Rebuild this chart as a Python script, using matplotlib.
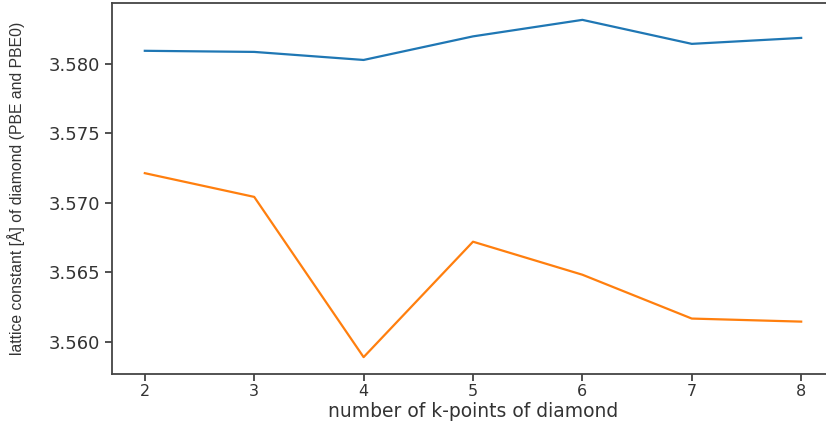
import matplotlib
matplotlib.use("Agg")
import matplotlib.pyplot as plt

# k-point grid sizes and converged lattice constants (Å)
kpoints = [2, 3, 4, 5, 6, 7, 8]
a_pbe = [3.58096, 3.58088, 3.58030, 3.58200, 3.58319, 3.58146, 3.58189]
a_pbe0 = [3.57214, 3.57043, 3.55888, 3.56720, 3.56482, 3.56166, 3.56144]

fig = plt.figure(figsize=(8.26, 4.24), dpi=100)
ax = fig.add_axes([112 / 826, 50 / 424, 722 / 826, 371 / 424])

ax.plot(kpoints, a_pbe, color="#1f77b4", lw=1.6)
ax.plot(kpoints, a_pbe0, color="#ff7f0e", lw=1.6)

ax.set_yticks([3.560, 3.565, 3.570, 3.575, 3.580])
ax.tick_params(colors="#333333", length=5, width=1.2)
ax.tick_params(axis="y", labelsize=13)
ax.tick_params(axis="x", labelsize=11.5, pad=2)
for s in ax.spines.values():
    s.set_linewidth(1.3)
    s.set_color("#444444")

ax.set_xlabel("number of k-points of diamond", fontsize=13.5, color="#333333")
ax.xaxis.set_label_coords(0.5, -0.076)
ax.set_ylabel("lattice constant [Å] of diamond (PBE and PBE0)",
              family=["Liberation Sans Narrow", "Liberation Sans", "DejaVu Sans"],
              fontsize=11.3, color="#333333")
ax.yaxis.set_label_coords(-0.121, 0.5)

fig.savefig("out.png", dpi=100)
